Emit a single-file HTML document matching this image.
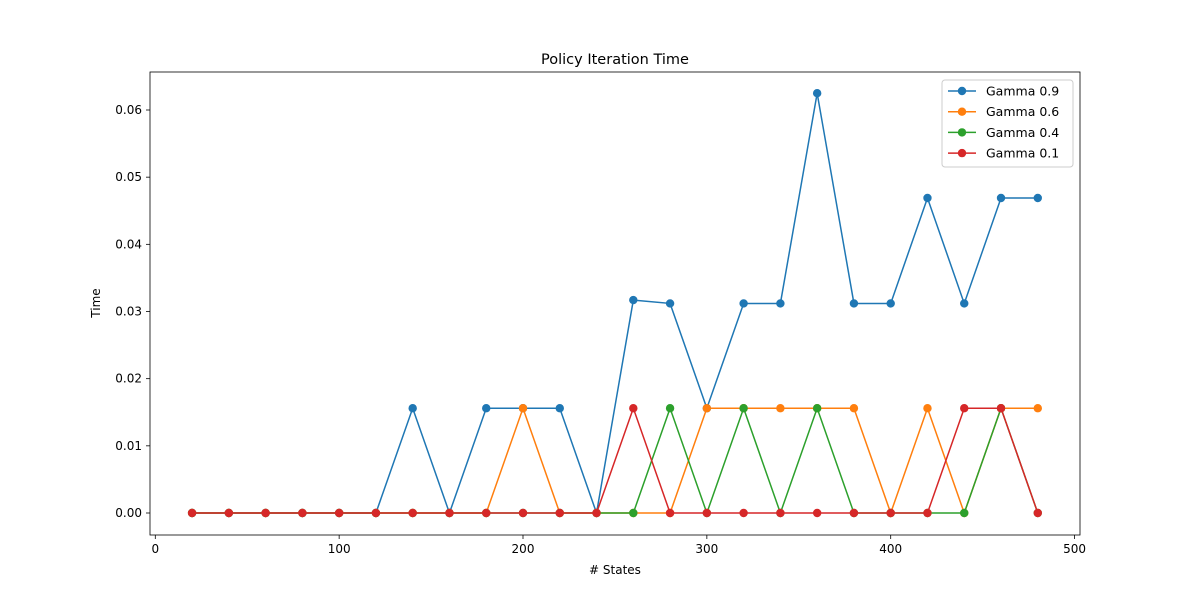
<!DOCTYPE html>
<html><head><meta charset="utf-8"><style>
body{margin:0;background:#fff;}
svg text{font-family:"DejaVu Sans","Liberation Sans",sans-serif;}
</style></head><body>
<svg id="chart" width="1200" height="600" xmlns="http://www.w3.org/2000/svg">
<rect width="1200" height="600" fill="#fff"/>
<g id="plot"></g>
</svg>
<script>
const states=[20,40,60,80,100,120,140,160,180,200,220,240,260,280,300,320,340,360,380,400,420,440,460,480];
const gamma09=[0,0,0,0,0,0,0.0156,0,0.0156,0.0156,0.0156,0,0.0317,0.0312,0.0156,0.0312,0.0312,0.0625,0.0312,0.0312,0.0469,0.0312,0.0469,0.0469];
const gamma06=[0,0,0,0,0,0,0,0,0,0.0156,0,0,0,0,0.0156,0.0156,0.0156,0.0156,0.0156,0,0.0156,0,0.0156,0.0156];
const gamma04=[0,0,0,0,0,0,0,0,0,0,0,0,0,0.0156,0,0.0156,0,0.0156,0,0,0,0,0.0156,0];
const gamma01=[0,0,0,0,0,0,0,0,0,0,0,0,0.0156,0,0,0,0,0,0,0,0,0.0156,0.0156,0];
const xTicks=[0,100,200,300,400,500];
const yTicks=[0,0.01,0.02,0.03,0.04,0.05,0.06];
const seriesNames=["Gamma 0.9","Gamma 0.6","Gamma 0.4","Gamma 0.1"];
const colors=["#1f77b4","#ff7f0e","#2ca02c","#d62728"];
const allSeries=[gamma09,gamma06,gamma04,gamma01];

const L=150,R=1080,T=72,B=535;
const xs=v=>155.3+v*1.8385;
const ys=v=>513-v*(403/0.06);
const NS="http://www.w3.org/2000/svg";
const g=document.getElementById('plot');
function mk(tag,attrs,parent){const e=document.createElementNS(NS,tag);for(const k in attrs)e.setAttribute(k,attrs[k]);(parent||g).appendChild(e);return e;}

allSeries.forEach((s,i)=>{
  const pts=s.map((v,j)=>xs(states[j])+','+ys(v)).join(' ');
  const pl=mk('polyline',{points:pts,fill:'none',stroke:colors[i],'stroke-width':1.5});
  
  
  s.forEach((v,j)=>{
    const c=mk('circle',{cx:xs(states[j]),cy:ys(v),r:4.2,fill:colors[i]});
    
    
  });
});

const fr=mk('rect',{x:L,y:T,width:R-L,height:B-T,fill:'none',stroke:'#000','stroke-width':0.8});



xTicks.forEach(t=>{
  const x=xs(t);
  mk('line',{x1:x,x2:x,y1:B,y2:B+4,stroke:'#000','stroke-width':0.8});
  const tx=mk('text',{x:x,y:B+18,'text-anchor':'middle','font-size':12});
  tx.textContent=t;
  
  
});
yTicks.forEach(t=>{
  const y=ys(t);
  mk('line',{x1:L-4,x2:L,y1:y,y2:y,stroke:'#000','stroke-width':0.8});
  const tx=mk('text',{x:L-8,y:y+4,'text-anchor':'end','font-size':12});
  tx.textContent=t.toFixed(2);
  
  
});

const title=mk('text',{x:615,y:64,'text-anchor':'middle','font-size':14.5});
title.textContent='Policy Iteration Time';


const xl=mk('text',{x:615,y:574,'text-anchor':'middle','font-size':12});
xl.textContent='# States';


const yl=mk('text',{x:100,y:303,'text-anchor':'middle','font-size':12,transform:'rotate(-90 100 303)'});
yl.textContent='Time';



const lg=mk('g',{});


mk('rect',{x:942,y:80,width:131,height:87,rx:3,fill:'#fff',stroke:'#ccc','stroke-width':1},lg);
seriesNames.forEach((n,i)=>{
  const y=91+i*20.7;
  const e=mk('g',{},lg);
  
  
  mk('line',{x1:948,x2:976,y1:y,y2:y,stroke:colors[i],'stroke-width':1.5},e);
  mk('circle',{cx:962,cy:y,r:4.2,fill:colors[i]},e);
  const t=mk('text',{x:986,y:y+4.5,'font-size':12.5},e);
  t.textContent=n;
});
</script>
</body></html>
